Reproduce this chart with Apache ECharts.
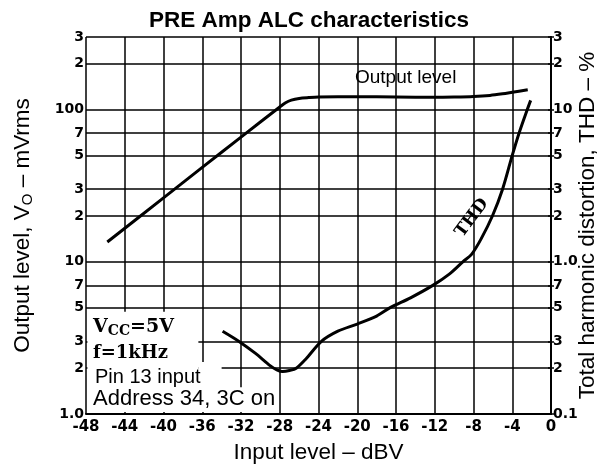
<!DOCTYPE html>
<html>
<head>
<meta charset="utf-8">
<script src="https://cdn.jsdelivr.net/npm/echarts@6/dist/echarts.min.js"></script>
<style>
html,body{margin:0;padding:0;background:#fff;}
#main{width:601px;height:467px;}
</style>
</head>
<body>
<div id="main"></div>
<script>
// Output level curve (left axis, mVrms) vs input level (dBV)
var outIn = [-45.8, -40, -36, -32, -28, -27.4, -26.8, -26, -25, -24, -20, -16, -12, -10, -8, -6.3, -5, -4, -2.4];
var outMv = [13.5, 26.3, 41.7, 66, 104, 111, 115.5, 118.5, 120, 121, 121.5, 121, 120.5, 121, 122, 124, 127, 130, 135];

// THD curve (right axis, %) vs input level (dBV)
var thdIn = [-33.9, -32.2, -30.5, -29, -28.3, -27.7, -27, -26.3, -25.3, -23.7, -22, -20, -18, -16.6, -14.5, -12.2, -10.5, -9.1, -8.2, -7.2, -6.05, -5, -4, -3.3, -2.45, -2.1];
var thdPct = [0.35, 0.30, 0.25, 0.208, 0.195, 0.19, 0.193, 0.2, 0.23, 0.30, 0.35, 0.39, 0.44, 0.5, 0.58, 0.7, 0.83, 1.0, 1.12, 1.42, 2.0, 3.0, 5.0, 7.0, 10, 11.5];

// tick values and labels
var leftTickValues = [1, 2, 3, 5, 7, 10, 20, 30, 50, 70, 100, 200, 300];
var leftTickLabels = ['1.0', '2', '3', '5', '7', '10', '2', '3', '5', '7', '100', '2', '3'];
var rightTickValues = [0.1, 0.2, 0.3, 0.5, 0.7, 1, 2, 3, 5, 7, 10, 20, 30];
var rightTickLabels = ['0.1', '2', '3', '5', '7', '1.0', '2', '3', '5', '7', '10', '2', '3'];

function pick(values, labels, v) {
  for (var i = 0; i < values.length; i++) {
    if (Math.abs(v - values[i]) < values[i] * 1e-3) return labels[i];
  }
  return '';
}
function zip(a, b) {
  return a.map(function (x, i) { return [x, b[i]]; });
}

var chart = echarts.init(document.getElementById('main'));
var tickFont = {color: '#000', fontFamily: 'DejaVu Sans', fontWeight: 'bold', fontSize: 14};
var sans = 'Liberation Sans';

var option = {
  animation: false,
  backgroundColor: '#fff',
  title: {
    text: 'PRE Amp ALC characteristics',
    left: 144, top: 4,
    textStyle: {fontFamily: sans, fontWeight: 'bold', fontSize: 22.5, color: '#000'}
  },
  grid: {left: 86, right: 50, top: 37, bottom: 53, outerBoundsMode: 'none', containLabel: false},
  xAxis: {
    type: 'value', min: -48, max: 0, interval: 4,
    axisLine: {lineStyle: {color: '#000', width: 2}},
    axisTick: {show: false},
    splitLine: {lineStyle: {color: '#000', width: 1.5}},
    axisLabel: Object.assign({margin: 6}, tickFont, {fontSize: 15}),
    name: 'Input level – dBV', nameLocation: 'middle', nameGap: 27, nameMoveOverlap: false,
    nameTextStyle: {fontFamily: sans, fontSize: 22.5, color: '#000'}
  },
  yAxis: [{
    type: 'log', logBase: 10, min: 1, max: 300,
    axisLine: {show: true, lineStyle: {color: '#000', width: 2}},
    axisTick: {show: true, customValues: leftTickValues, length: 3, lineStyle: {color: '#000', width: 1.5}},
    splitLine: {show: true, lineStyle: {color: '#000', width: 1.5}},
    minorTick: {show: false},
    axisLabel: Object.assign({
      margin: 2, customValues: leftTickValues,
      formatter: function (v) { return pick(leftTickValues, leftTickLabels, v); }
    }, tickFont),
    name: 'Output level, V{sub|O} – mVrms', nameLocation: 'middle', nameRotate: 90, nameGap: 52, nameMoveOverlap: false,
    nameTextStyle: {
      fontFamily: sans, fontSize: 22.5, color: '#000',
      rich: {sub: {fontFamily: sans, fontSize: 15, color: '#000', lineHeight: 15, padding: [10, 0, 0, 0]}}
    }
  }, {
    type: 'log', logBase: 10, min: 0.1, max: 30, position: 'right',
    axisLine: {show: true, lineStyle: {color: '#000', width: 2}},
    axisTick: {show: true, customValues: rightTickValues, length: 3, lineStyle: {color: '#000', width: 1.5}},
    splitLine: {show: false},
    minorTick: {show: false},
    axisLabel: Object.assign({
      margin: 2, customValues: rightTickValues,
      formatter: function (v) { return pick(rightTickValues, rightTickLabels, v); }
    }, tickFont),
    name: 'Total harmonic distortion, THD – %', nameLocation: 'middle', nameRotate: 90, nameGap: 25, nameMoveOverlap: false,
    nameTextStyle: {fontFamily: sans, fontSize: 22.5, color: '#000'}
  }],
  series: [{
    name: 'mask', type: 'line', data: [], silent: true, z: 1,
    markArea: {
      silent: true,
      itemStyle: {color: '#fff', opacity: 1},
      data: [
        [{xAxis: -47.85, yAxis: 1.03}, {xAxis: -36.4, yAxis: 4.7}],
        [{xAxis: -36.4, yAxis: 1.03}, {xAxis: -34, yAxis: 2.2}],
        [{xAxis: -34, yAxis: 1.03}, {xAxis: -28.3, yAxis: 1.5}]
      ]
    }
  }, {
    name: 'Output level', type: 'line', yAxisIndex: 0, z: 3,
    data: zip(outIn, outMv), showSymbol: false, smooth: 0.3,
    lineStyle: {color: '#000', width: 3}
  }, {
    name: 'THD', type: 'line', yAxisIndex: 1, z: 3,
    data: zip(thdIn, thdPct), showSymbol: false, smooth: 0.3,
    lineStyle: {color: '#000', width: 3}
  }],
  graphic: [
    {type: 'text', x: 355, y: 78, z: 10, style: {text: 'Output level', fontFamily: sans, fontSize: 19, fill: '#000', verticalAlign: 'middle'}},
    {type: 'text', x: 472, y: 218, rotation: 53 * Math.PI / 180, z: 10,
      style: {text: 'THD', fontFamily: 'DejaVu Serif', fontWeight: 'bold', fontSize: 17, fill: '#000', align: 'center', verticalAlign: 'middle'}},
    {type: 'text', x: 93, y: 327, z: 10, style: {
      text: '{m|V}{s|CC}{m|=5V}', verticalAlign: 'middle',
      rich: {
        m: {fontFamily: 'DejaVu Serif', fontWeight: 'bold', fontSize: 19, fill: '#000', lineHeight: 19},
        s: {fontFamily: 'DejaVu Serif', fontWeight: 'bold', fontSize: 14, fill: '#000', lineHeight: 14, padding: [9, 0, 0, 0]}
      }
    }},
    {type: 'text', x: 93, y: 353, z: 10, style: {text: 'f=1kHz', fontFamily: 'DejaVu Serif', fontWeight: 'bold', fontSize: 18, fill: '#000', verticalAlign: 'middle'}},
    {type: 'text', x: 95, y: 377, z: 10, style: {text: 'Pin 13 input', fontFamily: sans, fontSize: 20, fill: '#000', verticalAlign: 'middle'}},
    {type: 'text', x: 93, y: 399, z: 10, style: {text: 'Address 34, 3C on', fontFamily: sans, fontSize: 22, fill: '#000', verticalAlign: 'middle'}}
  ]
};
chart.setOption(option);
</script>
</body>
</html>
